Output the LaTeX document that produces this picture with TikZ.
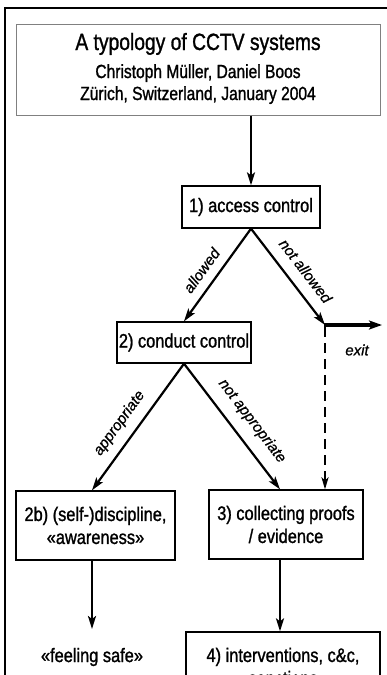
\documentclass[tikz,border=0pt]{standalone}
\usepackage{fontspec}
\setmainfont{Liberation Sans}[FakeStretch=0.82,FakeBold=1.2]
\newfontfamily\boxfont{Liberation Sans}[FakeStretch=0.84,FakeBold=1.2]
\newfontfamily\lblfont{Liberation Sans}[FakeBold=0.8]
\usetikzlibrary{arrows.meta}
\begin{document}
\begin{tikzpicture}[x=1pt,y=-1pt,
  box/.style={draw=black, line width=1.3pt, inner sep=0pt, align=center,
    font=\boxfont\fontsize{19.5}{23}\selectfont},
  plain/.style={inner sep=0pt, align=center, font=\boxfont\fontsize{19.5}{23}\selectfont},
  arr/.style={line width=2.2pt, -{Stealth[length=13pt,width=8pt,inset=3pt]}},
  lbl/.style={font=\lblfont\itshape\fontsize{15}{18}\selectfont, sloped, inner sep=0pt},
  exitlabel/.style={font=\lblfont\itshape\fontsize{15}{18}\selectfont, inner sep=0pt}]
\useasboundingbox (0,0) rectangle (387,675);
\clip (0,0) rectangle (387,675);
\fill[white] (0,0) rectangle (387,675);
% outer frame (cut by the picture edge)
\draw[line width=2.5pt] (5,8) rectangle (430,720);
% title box
\node[draw=gray, line width=1pt, minimum width=364pt, minimum height=91pt, inner sep=0pt] (title) at (198,69.5) {};
\node[anchor=base, inner sep=0pt, font=\fontsize{23.5}{26}\selectfont] (t1) at (198,50) {A typology of CCTV systems};
\node[anchor=base, inner sep=0pt, font=\fontsize{19}{22}\selectfont] (t2) at (198,78) {Christoph Müller, Daniel Boos};
\node[anchor=base, inner sep=0pt, font=\fontsize{19}{22}\selectfont] (t3) at (198,100) {Zürich, Switzerland, January 2004};
% boxes
\node[box, minimum width=138pt, minimum height=42pt] (ac) at (251,207) {1) access control};
\node[box, minimum width=134pt, minimum height=41pt] (cc) at (184,342.5) {2) conduct control};
\node[box, minimum width=159pt, minimum height=69pt] (sd) at (95.5,525.5) {2b) (self-)discipline,\\«awareness»};
\node[box, minimum width=154pt, minimum height=69pt] (cp) at (286,524.5) {3) collecting proofs\\/ evidence};
\node[box, minimum width=194pt, minimum height=69pt] (iv) at (283,666.5) {4) interventions, c\&c,\\sanctions};
\node[plain] (fs) at (92,657) {«feeling safe»};
% junction for exit
\coordinate (ex) at (325,325);
\coordinate (exend) at (382,325);
% connectors
\draw[arr] (ac.north |- title.south) -- (ac.north);
\draw[arr] (ac.south) -- node[lbl, pos=0.55, above=9pt] {allowed} (cc.north);
\draw[arr] (ac.south) -- node[lbl, pos=0.55, above=11pt] {not allowed} (ex);
\draw[line width=4pt, -{Stealth[length=13pt,width=9pt,inset=3pt]}] ([xshift=-1pt]ex) -- (exend);
\node[exitlabel] (exitlbl) at (357,350) {exit};
\draw[line width=2pt, dash pattern=on 10pt off 6pt, -{Stealth[length=12pt,width=7pt,inset=3pt]}] ([yshift=-2pt]ex) -- (ex |- cp.north);
\draw[arr] (cc.south) -- node[lbl, pos=0.55, above=9pt] {appropriate} ([xshift=-3.5pt]sd.north);
\draw[arr] (cc.south) -- node[lbl, pos=0.55, above=11pt] {not appropriate} ([xshift=-6pt]cp.north);
\draw[arr] ([xshift=-3.5pt]sd.south) -- ([xshift=-3.5pt]sd.south |- 0,629);
\draw[arr] ([xshift=-6pt]cp.south) -- ([xshift=-6pt]cp.south |- iv.north);
\end{tikzpicture}
\end{document}
